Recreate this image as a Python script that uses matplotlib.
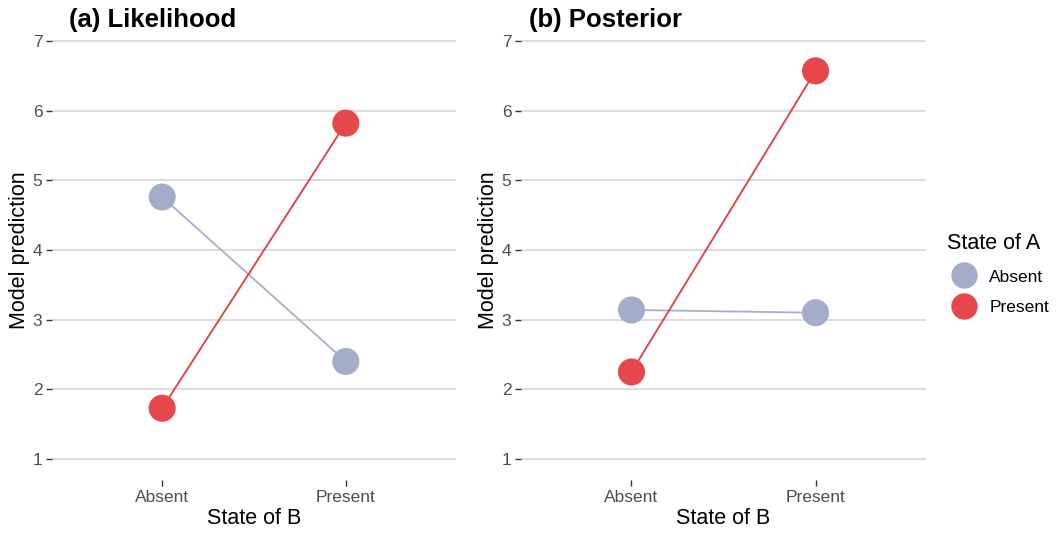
import numpy as np
import matplotlib.pyplot as plt
from matplotlib.lines import Line2D

plt.rcParams['font.family'] = ['Liberation Sans', 'DejaVu Sans']

state_b = ['Absent', 'Present']
state_a = ['Absent', 'Present']
likelihood = {'Absent': [4.76, 2.40], 'Present': [1.73, 5.82]}
posterior = {'Absent': [3.14, 3.10], 'Present': [2.25, 6.57]}
titles = ['(a) Likelihood', '(b) Posterior']

point_col = {'Absent': '#A3ACC9', 'Present': '#E6474A'}
line_col = {'Absent': '#A7AEC8', 'Present': '#E33B3E'}

fig = plt.figure(figsize=(10.59, 5.37), dpi=100)
ax1 = fig.add_axes([52 / 1059, 1 - 480 / 537, 404 / 1059, 460 / 537])
ax2 = fig.add_axes([521 / 1059, 1 - 480 / 537, 405 / 1059, 460 / 537])

x = np.arange(len(state_b))
for ax, data, title, tx in zip((ax1, ax2), (likelihood, posterior), titles, (69, 529)):
    for a in state_a:
        ax.plot(x, data[a], color=line_col[a], lw=1.3, zorder=2)
        ax.scatter(x, data[a], s=380, color=point_col[a], edgecolors='none', zorder=3)
    ax.set_xlim(-0.6, 1.6)
    ax.set_ylim(0.7, 7.3)
    ax.set_yticks(range(1, 8))
    ax.set_xticks(x)
    ax.set_xticklabels(state_b)
    ax.grid(axis='y', color='#D9D9D9', lw=1.3)
    ax.set_axisbelow(True)
    for s in ax.spines.values():
        s.set_visible(False)
    ax.tick_params(axis='both', length=4, width=1, color='#333333',
                   labelsize=12.5, labelcolor='#4D4D4D', pad=3)
    ax.set_xlabel('State of B', fontsize=15.5, labelpad=2)
    ax.set_ylabel('Model prediction', fontsize=15.5, labelpad=2)
    fig.text(tx / 1059, 1 - 20 / 537, title, fontsize=18.5, fontweight='bold',
             ha='left', va='center')

handles = [Line2D([], [], marker='o', ls='none', markersize=19,
                  markerfacecolor=point_col[a], markeredgecolor='none') for a in state_a]
fig.legend(handles, state_a, title='State of A', loc='center left',
           bbox_to_anchor=(931 / 1059, 1 - 274 / 537), frameon=False,
           fontsize=12.5, title_fontsize=15.5, handletextpad=0.45,
           labelspacing=0.9, alignment='left')

fig.savefig('out.png', dpi=100)
